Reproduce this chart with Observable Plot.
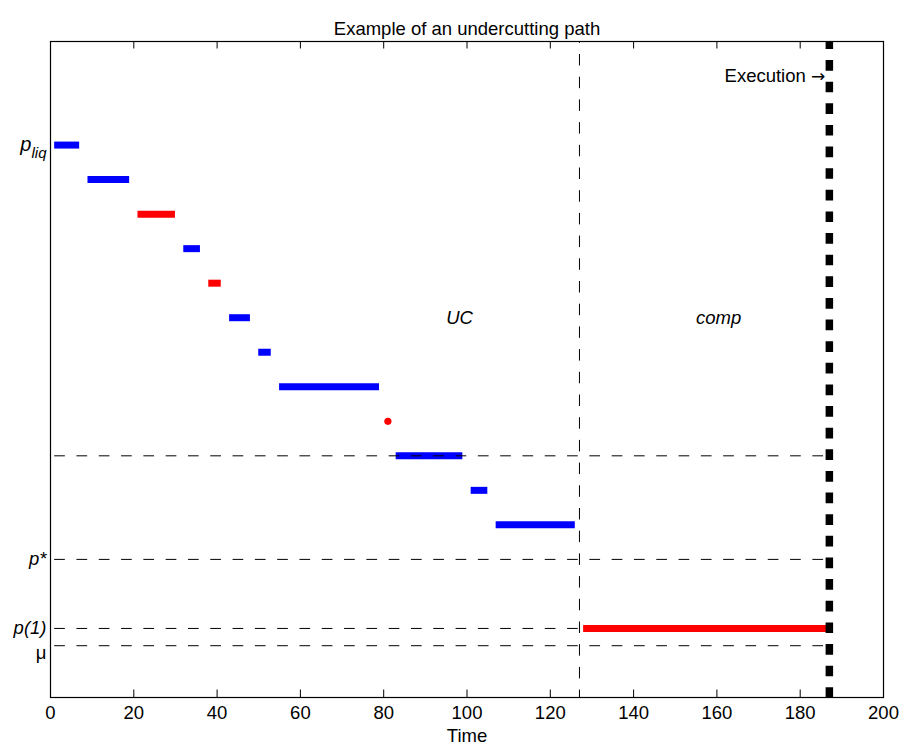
<!DOCTYPE html>
<html><head><meta charset="utf-8">
<script src="https://cdn.jsdelivr.net/npm/d3@7"></script>
<script src="https://cdn.jsdelivr.net/npm/@observablehq/plot@0.6"></script>
<style>
body{margin:0;background:#fff;}
#chart svg{font-family:"Liberation Sans", Arial, Helvetica, sans-serif;}
</style></head><body><div id="chart"></div>
<script>
const title = "Example of an undercutting path";
const xLabel = "Time";
const xTickValues = [0, 20, 40, 60, 80, 100, 120, 140, 160, 180, 200];
const yTickValues = [16, 4, 2, 1.5];
const yTickLabels = ["p_liq", "p*", "p(1)", "μ"];

// quote segments: start time, end time, price level, colour
const segStart = [1, 9, 21, 32, 38, 43, 50, 55, 83, 101, 107, 128];
const segEnd   = [7, 19, 30, 36, 41, 48, 53, 79, 99, 105, 126, 187];
const segLevel = [16, 15, 14, 13, 12, 11, 10, 9, 7, 6, 5, 2];
const segColor = ["#0000ff", "#0000ff", "#ff0000", "#0000ff", "#ff0000", "#0000ff", "#0000ff", "#0000ff", "#0000ff", "#0000ff", "#0000ff", "#ff0000"];

const dotTime = [81];
const dotLevel = [8];

const refLevels = [7, 4, 2, 1.5];
const refStart = [1];
const refEnd = [187];
const ucBoundary = [127];
const executionTime = [187];

const regionLabels = ["UC", "comp"];
const regionX = [95, 155];
const regionY = [11, 11];
const execLabel = ["Execution \u2192"];
const execX = [186];
const execY = [18];

const segs = segStart.map((s, i) => ({start: s, end: segEnd[i], level: segLevel[i], color: segColor[i]}));
const ucSegs = segs.filter(d => d.end < ucBoundary[0]);
const compSegs = segs.filter(d => d.start > ucBoundary[0]);
const dots = dotTime.map((t, i) => ({t, level: dotLevel[i]}));
const refs = refLevels.map(l => ({level: l, x1: refStart[0], x2: refEnd[0]}));
const regions = regionLabels.map((s, i) => ({s, x: regionX[i], y: regionY[i]}));

const innerH = 747 - 41 - 50;
const font = "Liberation Sans, Arial, Helvetica, sans-serif";

const chart = Plot.plot({
  width: 904, height: 747,
  marginLeft: 50, marginRight: 21, marginTop: 41, marginBottom: 50,
  x: {domain: [0, 200]},
  y: {domain: [0, 19]},
  color: {type: "identity"},
  style: {fontFamily: font, background: "white", color: "black"},
  marks: [
    Plot.ruleY(ucSegs, {y: "level", x1: "start", x2: "end", stroke: "color", strokeWidth: 7}),
    Plot.dot(dots, {x: "t", y: "level", r: 3.6, fill: "#ff0000", stroke: null}),
    Plot.ruleY(refs, {y: "level", x1: "x1", x2: "x2", stroke: "black", strokeWidth: 1, strokeDasharray: "10.7,11.6"}),
    Plot.ruleX(ucBoundary, {x: d => d, stroke: "black", strokeWidth: 1, strokeDasharray: "11.5,11.2", strokeDashoffset: 9.7}),
    Plot.ruleY(compSegs, {y: "level", x1: "start", x2: "end", stroke: "color", strokeWidth: 7}),
    Plot.ruleX(executionTime, {x: d => d, stroke: "black", strokeWidth: 7.5, strokeDasharray: "10.7,10.93", strokeDashoffset: 2.63}),
    Plot.text(regions, {x: "x", y: "y", text: "s", textAnchor: "start", fontSize: 18.5, fontStyle: "italic", fill: "black"}),
    Plot.text(execLabel, {x: execX[0], y: execY[0], text: d => d, textAnchor: "end", fontSize: 18.5, fill: "black"}),
    Plot.ruleX(xTickValues, {x: d => d, insetTop: innerH - 7.5, stroke: "black", strokeWidth: 1}),
    Plot.ruleX(xTickValues, {x: d => d, insetBottom: innerH - 7.5, stroke: "black", strokeWidth: 1}),
    Plot.frame({stroke: "black", strokeWidth: 1.2}),
    Plot.axisX(xTickValues, {tickSize: 0, tickPadding: 8, label: null, fontSize: 18.5, tickFormat: d => String(d)}),
    Plot.axisY(yTickValues, {tickSize: 0, tickPadding: 4, label: null, fontSize: 18.5, fontStyle: "italic",
      tickFormat: d => yTickLabels[yTickValues.indexOf(d)]}),
    Plot.text([xLabel], {frameAnchor: "bottom", dy: 44, text: d => d, fontSize: 18.5, fill: "black"}),
    Plot.text([title], {frameAnchor: "top", dy: -20, text: d => d, fontSize: 18.5, fill: "black"})
  ]
});

document.getElementById("chart").appendChild(chart);

// typographic touches for the y tick labels (subscript, upright mu)
d3.select(chart).selectAll('g[aria-label="y-axis tick label"] text').each(function() {
  const t = d3.select(this);
  const s = t.text();
  if (s === "p_liq") {
    t.text(null);
    t.append("tspan").text("p").attr("font-size", 20);
    t.append("tspan").text("liq").attr("font-size", 15).attr("dy", 7);
  } else if (s === "μ") {
    t.attr("font-style", "normal").style("font-style", "normal").attr("dy", "0.42em");
  }
});
// longer arrow glyph for the execution label
d3.select(chart).selectAll("text").each(function() {
  const t = d3.select(this);
  const s = t.text();
  if (s === execLabel[0]) {
    t.text(null);
    t.append("tspan").text("Execution ");
    t.append("tspan").text("\u2192").attr("font-family", "DejaVu Sans").attr("font-size", 17);
  }
});
</script></body></html>
